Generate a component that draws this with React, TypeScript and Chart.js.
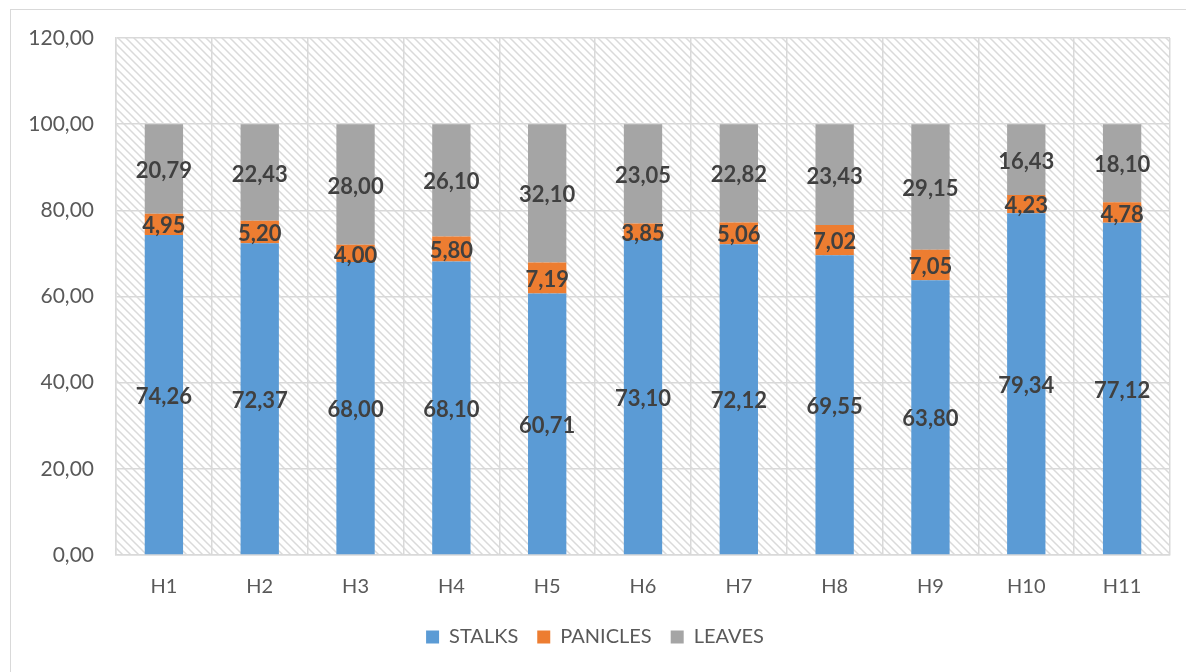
import React, { useEffect, useRef } from "react";
import { Chart, registerables } from "chart.js";

Chart.register(...registerables);

const categories = ["H1", "H2", "H3", "H4", "H5", "H6", "H7", "H8", "H9", "H10", "H11"];
const stalks = [74.26, 72.37, 68.0, 68.1, 60.71, 73.1, 72.12, 69.55, 63.8, 79.34, 77.12];
const panicles = [4.95, 5.2, 4.0, 5.8, 7.19, 3.85, 5.06, 7.02, 7.05, 4.23, 4.78];
const leaves = [20.79, 22.43, 28.0, 26.1, 32.1, 23.05, 22.82, 23.43, 29.15, 16.43, 18.1];
const seriesNames = ["STALKS", "PANICLES", "LEAVES"];

const FONT = "Lato, 'Open Sans', sans-serif";
const fmt = (v: number) => v.toFixed(2).replace(".", ",");

const hatchPlugin = {
  id: "hatchBg",
  beforeDraw(chart: any) {
    const { ctx, chartArea } = chart;
    if (!chartArea) return;
    const tile = document.createElement("canvas");
    tile.width = 8;
    tile.height = 8;
    const t = tile.getContext("2d")!;
    t.strokeStyle = "#dadada";
    t.lineWidth = 1.5;
    t.beginPath();
    t.moveTo(-2, -2);
    t.lineTo(10, 10);
    t.moveTo(-2, 6);
    t.lineTo(2, 10);
    t.moveTo(6, -2);
    t.lineTo(10, 2);
    t.stroke();
    const pat = ctx.createPattern(tile, "repeat");
    ctx.save();
    ctx.fillStyle = "#ffffff";
    ctx.fillRect(chartArea.left, chartArea.top, chartArea.right - chartArea.left, chartArea.bottom - chartArea.top);
    ctx.fillStyle = pat;
    ctx.fillRect(chartArea.left, chartArea.top, chartArea.right - chartArea.left, chartArea.bottom - chartArea.top);
    ctx.restore();
  },
};

const labelPlugin = {
  id: "barLabels",
  afterDatasetsDraw(chart: any) {
    const { ctx } = chart;
    ctx.save();
    ctx.font = `bold 22px ${FONT}`;
    ctx.fillStyle = "#404040";
    ctx.textAlign = "center";
    ctx.textBaseline = "middle";
    chart.data.datasets.forEach((ds: any, di: number) => {
      const meta = chart.getDatasetMeta(di);
      meta.data.forEach((el: any, i: number) => {
        const y = (el.y + el.base) / 2 + 2;
        ctx.fillText(fmt(ds.data[i]), el.x, y);
      });
    });
    ctx.restore();
  },
};

export default function App() {
  const ref = useRef<HTMLCanvasElement>(null);
  useEffect(() => {
    if (!ref.current) return;
    const chart = new Chart(ref.current, {
      type: "bar",
      data: {
        labels: categories,
        datasets: [
          { label: seriesNames[0], data: stalks, backgroundColor: "#5B9BD5" },
          { label: seriesNames[1], data: panicles, backgroundColor: "#ED7D31" },
          { label: seriesNames[2], data: leaves, backgroundColor: "#A5A5A5" },
        ],
      },
      options: {
        animation: false,
        responsive: false,
        maintainAspectRatio: false,
        datasets: { bar: { barPercentage: 0.4, categoryPercentage: 1 } } as any,
        layout: { padding: { left: 20, right: 16, top: 38, bottom: 15 } },
        plugins: {
          legend: {
            position: "bottom",
            labels: {
              boxWidth: 13,
              boxHeight: 13,
              padding: 19,
              color: "#595959",
              font: { size: 20, family: FONT },
            },
          },
          tooltip: { enabled: false },
        },
        scales: {
          x: {
            stacked: true,
            grid: { color: "#d9d9d9", lineWidth: 1.5, drawTicks: false, offset: true },
            border: { color: "#d9d9d9", width: 1.5 },
            ticks: { color: "#595959", font: { size: 20, family: FONT }, padding: 20 },
            afterFit: (s: any) => {
              s.height = 53;
            },
          },
          y: {
            stacked: true,
            min: 0,
            max: 120,
            grid: { color: "#d9d9d9", lineWidth: 1.5, drawTicks: false },
            border: { color: "#d9d9d9", width: 1.5 },
            ticks: {
              stepSize: 20,
              color: "#595959",
              font: { size: 21, family: FONT },
              padding: 22,
              callback: (v: any) => fmt(Number(v)),
            },
            afterFit: (s: any) => {
              s.width = 96;
            },
          },
        },
      },
      plugins: [hatchPlugin, labelPlugin],
    });
    return () => chart.destroy();
  }, []);
  return (
    <div style={{ position: "absolute", left: 0, top: 0, width: 1186, height: 672, background: "#fff", overflow: "hidden" }}>
      <div style={{ position: "absolute", left: 10, top: 9, width: 1200, height: 700, border: "1.5px solid #d9d9d9", boxSizing: "border-box" }} />
      <canvas ref={ref} width={1186} height={672} style={{ position: "absolute", left: 0, top: 0 }} />
    </div>
  );
}
